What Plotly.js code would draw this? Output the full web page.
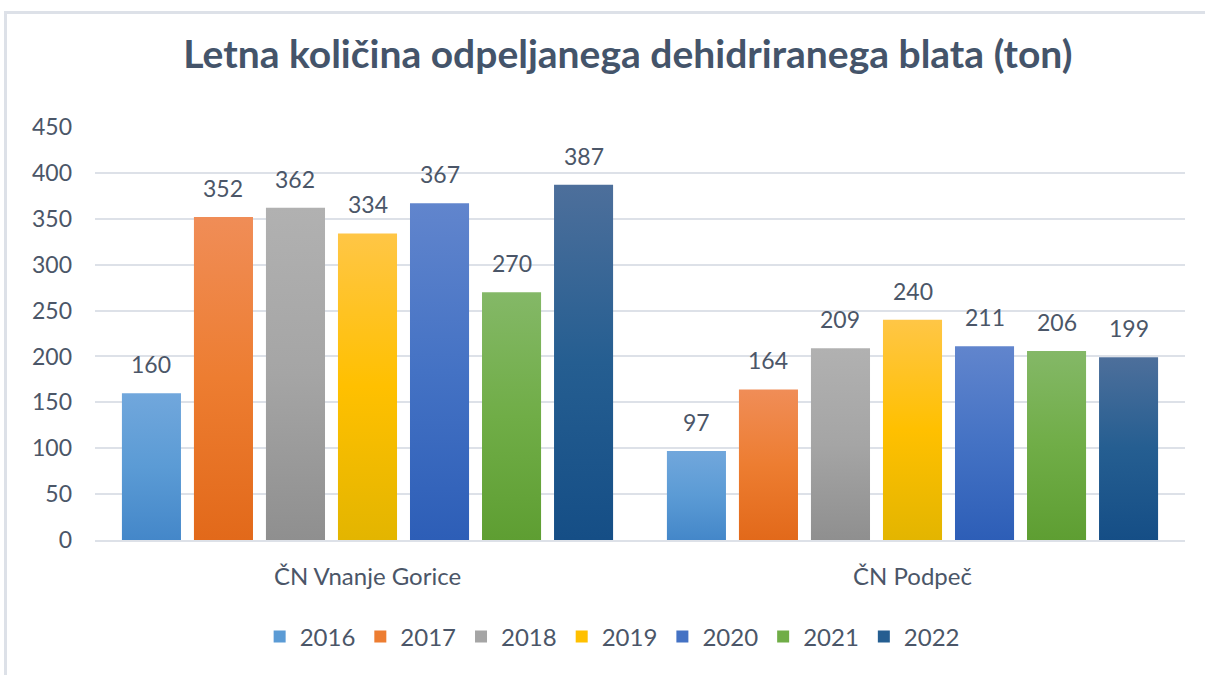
<!DOCTYPE html>
<html>
<head>
<meta charset="utf-8">
<script src="https://cdn.plot.ly/plotly-3.0.1.min.js"></script>
<style>
  html, body { margin: 0; padding: 0; background: #ffffff; }
  #chart { width: 1205px; height: 675px; }
  #frame { position: absolute; left: 4px; top: 11px; width: 1205px; height: 670px;
           border-top: 3px solid #dde1e8; border-left: 3px solid #dde1e8; pointer-events: none; }
</style>
</head>
<body>
<div id="chart"></div>
<div id="frame"></div>
<script>
const categories = ["ČN Vnanje Gorice", "ČN Podpeč"];
const years = ["2016", "2017", "2018", "2019", "2020", "2021", "2022"];
const v2016 = [160, 97];
const v2017 = [352, 164];
const v2018 = [362, 209];
const v2019 = [334, 240];
const v2020 = [367, 211];
const v2021 = [270, 206];
const v2022 = [387, 199];
const seriesValues = [v2016, v2017, v2018, v2019, v2020, v2021, v2022];
const baseColors = ["#5b9bd5", "#ed7d31", "#a5a5a5", "#ffc000", "#4472c4", "#70ad47", "#255e91"];
const topColors = ["#71a7dc", "#f08d57", "#b1b1b1", "#ffc646", "#6185cd", "#84b867", "#4d6f9b"];
const bottomColors = ["#4487c9", "#e2691a", "#8f8f8f", "#e3b500", "#2d5eb7", "#5e9e32", "#154e86"];

const textColor = "#4b5668";
const font = "Lato, 'Open Sans', sans-serif";
const bargap = 0.075;

const traces = years.map((yr, i) => ({
  type: "bar",
  name: yr,
  x: categories,
  y: seriesValues[i],
  marker: { color: baseColors[i], line: { width: 0 } },
  hoverinfo: "x+y+name"
}));

// data labels above each bar, placed on the category axis (index + slot offset)
const slot = (1 - bargap) / years.length;
const annotations = [];
years.forEach((yr, i) => {
  categories.forEach((cat, c) => {
    annotations.push({
      xref: "x", yref: "y",
      x: c + (i - (years.length - 1) / 2) * slot,
      y: seriesValues[i][c],
      text: String(seriesValues[i][c]),
      showarrow: false,
      yanchor: "middle",
      yshift: 29,
      font: { family: font, size: 23, color: textColor }
    });
  });
});

const layout = {
  width: 1205,
  height: 675,
  paper_bgcolor: "#ffffff",
  plot_bgcolor: "#ffffff",
  margin: { l: 95, r: 20, t: 127, b: 135 },
  barmode: "group",
  bargap: bargap,
  bargroupgap: 0.18,
  title: {
    text: "<b>Letna količina odpeljanega dehidriranega blata (ton)</b>",
    font: { family: font, size: 39, color: "#44546a" },
    x: 0.521, xanchor: "center",
    y: 1 - 54 / 675, yanchor: "middle", xref: "container", yref: "container"
  },
  xaxis: {
    type: "category",
    showgrid: false,
    showline: true,
    linecolor: "#dde1e8",
    linewidth: 2,
    ticks: "",
    tickfont: { family: font, size: 24, color: textColor },
    ticklabelstandoff: 14
  },
  yaxis: {
    range: [0, 450],
    dtick: 50,
    showgrid: true,
    gridcolor: "#dde1e8",
    gridwidth: 2,
    zeroline: false,
    showline: false,
    ticks: "",
    tickfont: { family: font, size: 23, color: textColor },
    ticklabelstandoff: 22
  },
  annotations: annotations,
  showlegend: true,
  legend: {
    orientation: "h",
    xref: "container", yref: "container",
    x: 0.508, xanchor: "center",
    y: 1 - 637 / 675, yanchor: "middle",
    font: { family: font, size: 24, color: textColor },
    itemwidth: 30,
    traceorder: "normal"
  },
  hovermode: false
};

Plotly.newPlot("chart", traces, layout, { displayModeBar: false, staticPlot: true }).then(gd => {
  const svg = gd.querySelector("svg.main-svg");
  let defs = svg.querySelector("defs");
  const ns = "http://www.w3.org/2000/svg";
  baseColors.forEach((c, i) => {
    const g = document.createElementNS(ns, "linearGradient");
    g.setAttribute("id", "barGrad" + i);
    g.setAttribute("x1", "0"); g.setAttribute("y1", "0");
    g.setAttribute("x2", "0"); g.setAttribute("y2", "1");
    [[0, topColors[i]], [0.5, baseColors[i]], [1, bottomColors[i]]].forEach(([o, col]) => {
      const s = document.createElementNS(ns, "stop");
      s.setAttribute("offset", o);
      s.setAttribute("stop-color", col);
      g.appendChild(s);
    });
    defs.appendChild(g);
  });
  gd.querySelectorAll(".barlayer .trace").forEach((tr, i) => {
    tr.querySelectorAll("path").forEach(p => { p.style.fill = "url(#barGrad" + i + ")"; });
  });
});
</script>
</body>
</html>
